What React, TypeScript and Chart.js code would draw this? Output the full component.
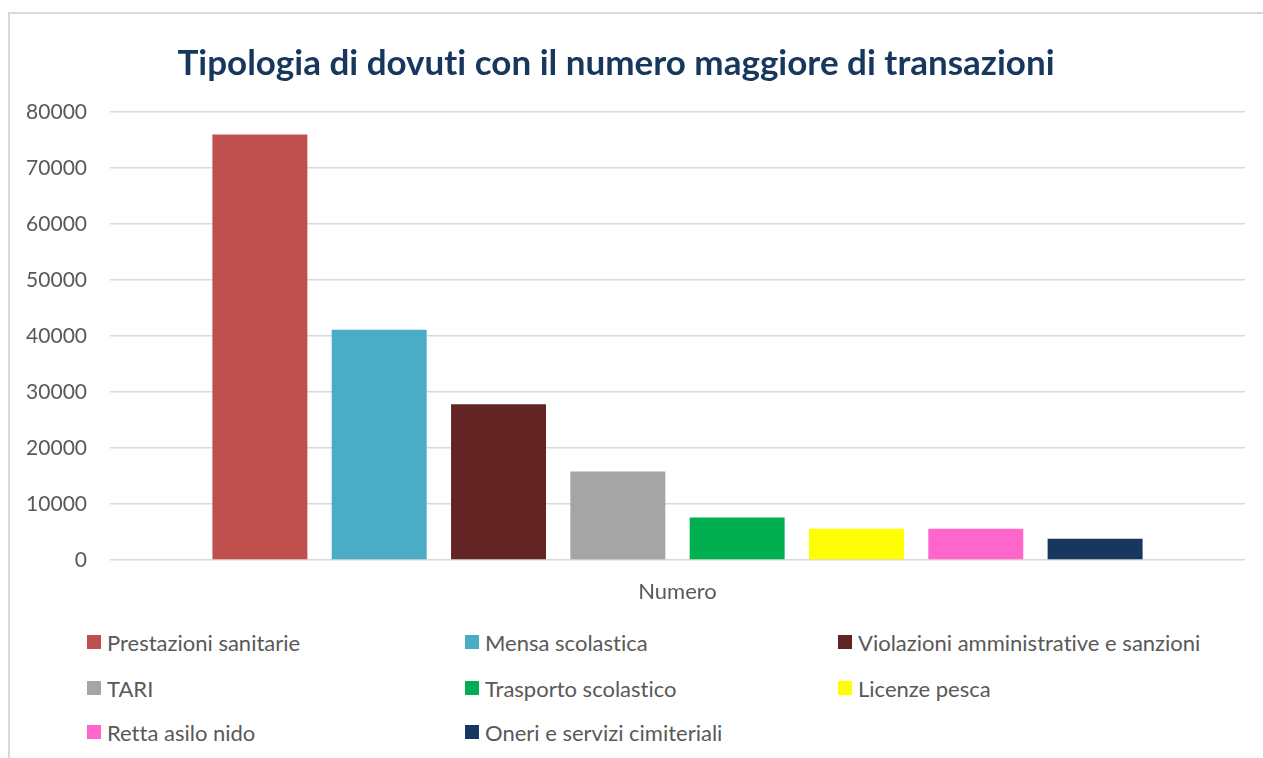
import React, { useEffect, useRef } from "react";
import { Chart, registerables } from "chart.js";

Chart.register(...registerables);

const titleText = "Tipologia di dovuti con il numero maggiore di transazioni";
const categories = ["Numero"];
const seriesNames = [
  "Prestazioni sanitarie",
  "Mensa scolastica",
  "Violazioni amministrative e sanzioni",
  "TARI",
  "Trasporto scolastico",
  "Licenze pesca",
  "Retta asilo nido",
  "Oneri e servizi cimiteriali",
];
const seriesValues = [76000, 41100, 27800, 15800, 7600, 5600, 5600, 3800];
const seriesColors = [
  "#c0504d",
  "#4bacc6",
  "#632523",
  "#a5a5a5",
  "#00b050",
  "#ffff00",
  "#ff66cc",
  "#17375e",
];
const yMin = 0;
const yMax = 80000;
const yStep = 10000;

const FONT = "Lato, 'Open Sans', sans-serif";
const TEXT_GRAY = "#595959";
const colLefts = [87, 465, 838];
const rowCenters = [642, 688, 732];

export default function App() {
  const canvasRef = useRef<HTMLCanvasElement | null>(null);

  useEffect(() => {
    if (!canvasRef.current) return;
    const chart = new Chart(canvasRef.current, {
      type: "bar",
      data: {
        labels: categories,
        datasets: seriesNames.map((name, i) => ({
          label: name,
          data: [seriesValues[i]],
          backgroundColor: seriesColors[i],
          borderWidth: 0,
          categoryPercentage: 0.841,
          barPercentage: 0.796,
        })),
      },
      options: {
        responsive: false,
        animation: false,
        layout: { padding: { left: 20, right: 18, top: 112, bottom: 10 } },
        plugins: {
          legend: { display: false },
          title: { display: false },
          tooltip: { enabled: false },
        },
        scales: {
          x: {
            grid: { display: false, drawTicks: false },
            border: { display: false },
            ticks: {
              color: TEXT_GRAY,
              font: { family: FONT, size: 22 },
              padding: 19,
            },
            afterFit: (axis: any) => {
              axis.height = 50;
            },
          },
          y: {
            min: yMin,
            max: yMax,
            grid: { color: "#d9d9d9", lineWidth: 1.5, drawTicks: false },
            border: { display: false },
            ticks: {
              stepSize: yStep,
              color: TEXT_GRAY,
              font: { family: FONT, size: 21 },
              padding: 23,
              callback: (v: any) => String(v),
            },
            afterFit: (axis: any) => {
              axis.width = 90;
            },
          },
        },
      },
    });
    return () => chart.destroy();
  }, []);

  return (
    <div
      style={{
        position: "fixed",
        left: 0,
        top: 0,
        width: 1263,
        height: 758,
        background: "#ffffff",
        overflow: "hidden",
        fontVariantLigatures: "none",
      }}
    >
      <div
        style={{
          position: "absolute",
          left: 8,
          top: 12,
          width: 1300,
          height: 800,
          border: "2px solid #d9d9d9",
          boxSizing: "border-box",
        }}
      />
      <canvas
        ref={canvasRef}
        width={1263}
        height={620}
        style={{ position: "absolute", left: 0, top: 0 }}
      />
      <div
        style={{
          position: "absolute",
          left: 0,
          width: 1232,
          top: 40,
          textAlign: "center",
          fontFamily: FONT,
          fontWeight: 700,
          fontSize: 35,
          color: "#17375e",
          lineHeight: "42px",
          whiteSpace: "nowrap",
          fontVariantLigatures: "none",
        }}
      >
        {titleText}
      </div>
      {seriesNames.map((name, i) => (
        <div
          key={name}
          style={{
            position: "absolute",
            left: colLefts[i % 3],
            top: rowCenters[Math.floor(i / 3)] - 14,
            height: 28,
            display: "flex",
            alignItems: "center",
            fontFamily: FONT,
            fontSize: 22,
            color: TEXT_GRAY,
            whiteSpace: "nowrap",
            fontVariantLigatures: "none",
          }}
        >
          <span
            style={{
              display: "inline-block",
              width: 14,
              height: 14,
              background: seriesColors[i],
              marginRight: 6,
            }}
          />
          <span>{name}</span>
        </div>
      ))}
    </div>
  );
}
